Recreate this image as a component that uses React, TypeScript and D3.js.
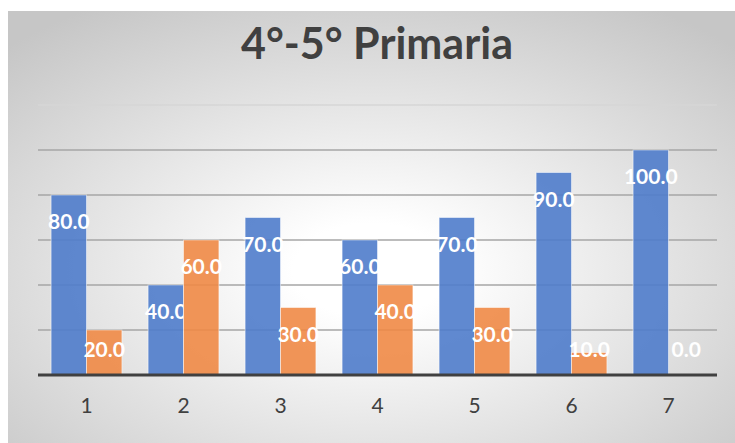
import React, { useEffect, useRef } from 'react';
import * as d3 from 'd3';

const categories = ['1', '2', '3', '4', '5', '6', '7'];
const seriesA = [80, 40, 70, 60, 70, 90, 100];
const seriesB = [20, 60, 30, 40, 30, 10, 0];
const yTicks = [0, 20, 40, 60, 80, 100, 120];

const App: React.FC = () => {
  const svgRef = useRef<SVGSVGElement>(null);

  useEffect(() => {
    if (!svgRef.current) return;
    const svg = d3.select(svgRef.current);
    svg.selectAll('*').remove();

    const width = 735;
    const height = 443;
    const left = 38;
    const right = 717;
    const top = 105;
    const bottom = 375;
    const font = 'Lato, "Open Sans", sans-serif';

    const defs = svg.append('defs');
    const grad = defs.append('radialGradient')
      .attr('id', 'bg')
      .attr('cx', '50%').attr('cy', '60%').attr('r', '72%');
    grad.append('stop').attr('offset', '0%').attr('stop-color', '#ffffff');
    grad.append('stop').attr('offset', '15%').attr('stop-color', '#ffffff');
    grad.append('stop').attr('offset', '100%').attr('stop-color', '#c6c6c6');

    svg.append('rect')
      .attr('x', 8).attr('y', 11)
      .attr('width', width - 8).attr('height', height - 11)
      .attr('fill', 'url(#bg)');

    const x = d3.scaleBand().domain(categories).range([left, right]).paddingInner(0.27).paddingOuter(0.135);
    const keys = ['a', 'b'];
    const xs = d3.scaleBand().domain(keys).range([0, x.bandwidth()]);
    const y = d3.scaleLinear().domain([0, 120]).range([bottom, top]);

    // gridlines
    svg.append('g')
      .selectAll('line')
      .data(yTicks.slice(1))
      .join('line')
      .attr('x1', left).attr('x2', right)
      .attr('y1', d => y(d)).attr('y2', d => y(d))
      .attr('stroke', d => (d === 120 ? '#d6d6d6' : '#a6a6a6'))
      .attr('stroke-width', 1.3);

    const series = [
      { key: 'a', values: seriesA, color: '#4f7ccb' },
      { key: 'b', values: seriesB, color: '#ef8a46' },
    ];

    series.forEach(s => {
      const g = svg.append('g');
      g.selectAll('rect')
        .data(s.values)
        .join('rect')
        .attr('x', (d, i) => (x(categories[i]) as number) + (xs(s.key) as number))
        .attr('y', d => y(d))
        .attr('width', xs.bandwidth())
        .attr('height', d => bottom - y(d))
        .attr('fill', s.color)
        .attr('fill-opacity', 0.9)
        .attr('stroke', '#ffffff')
        .attr('stroke-opacity', 0.5)
        .attr('stroke-width', 1);

      g.selectAll('text')
        .data(s.values)
        .join('text')
        .attr('x', (d, i) => (x(categories[i]) as number) + (xs(s.key) as number) + xs.bandwidth() / 2)
        .attr('y', d => Math.min(y(d) + 29, 352))
        .attr('text-anchor', 'middle')
        .attr('dominant-baseline', 'middle')
        .attr('fill', '#ffffff')
        .attr('font-family', font)
        .attr('font-size', '21px')
        .attr('font-weight', 'bold')
        .text(d => d.toFixed(1));
    });

    // axis line
    svg.append('line')
      .attr('x1', left).attr('x2', right)
      .attr('y1', bottom).attr('y2', bottom)
      .attr('stroke', '#404040')
      .attr('stroke-width', 3);

    // category labels
    svg.append('g')
      .selectAll('text')
      .data(categories)
      .join('text')
      .attr('x', d => (x(d) as number) + x.bandwidth() / 2)
      .attr('y', 408)
      .attr('text-anchor', 'middle')
      .attr('dominant-baseline', 'middle')
      .attr('fill', '#404040')
      .attr('font-family', font)
      .attr('font-size', '21px')
      .text(d => d);

    // title
    svg.append('text')
      .attr('x', 377)
      .attr('y', 48)
      .attr('text-anchor', 'middle')
      .attr('dominant-baseline', 'middle')
      .attr('fill', '#404040')
      .attr('font-family', font)
      .attr('font-size', '43px')
      .attr('font-weight', 'bold')
      .text('4°-5° Primaria');
  }, []);

  return (
    <svg ref={svgRef} width={735} height={443}
      style={{ position: 'absolute', left: 0, top: 0, display: 'block' }} />
  );
};

export default App;
